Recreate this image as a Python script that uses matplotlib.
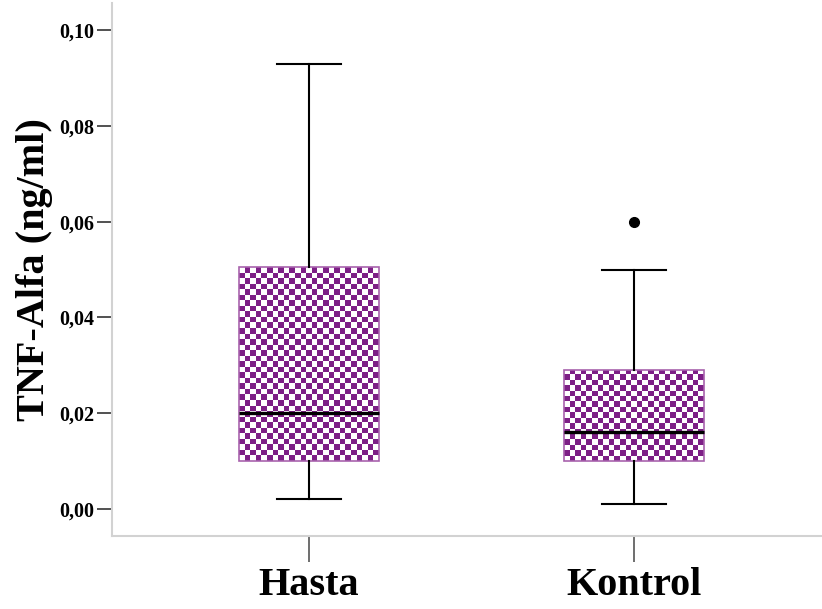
import numpy as np
import matplotlib.pyplot as plt
from matplotlib.colors import ListedColormap

# Group summary statistics (ng/ml)
groups = ['Hasta', 'Kontrol']
whisker_low = [0.002, 0.001]
q1 = [0.010, 0.010]
median = [0.020, 0.016]
q3 = [0.0505, 0.029]
whisker_high = [0.093, 0.050]
outliers = [[], [0.060]]

yticks = [0.00, 0.02, 0.04, 0.06, 0.08, 0.10]
ytick_labels = ['0,00', '0,02', '0,04', '0,06', '0,08', '0,10']

purple = '#7d1f86'
edge_purple = '#a862ad'
spine_gray = '#d2d2d2'

fig = plt.figure(figsize=(8.22, 6.09), dpi=100)
ax = fig.add_axes([112 / 822, 73 / 609, 710 / 822, 533 / 609])

stats = []
for i, name in enumerate(groups):
    stats.append({
        'label': name,
        'whislo': whisker_low[i],
        'q1': q1[i],
        'med': median[i],
        'q3': q3[i],
        'whishi': whisker_high[i],
        'fliers': outliers[i],
    })

positions = [1, 2]
box_w = 0.43
bp = ax.bxp(stats, positions=positions, widths=box_w, patch_artist=True,
            showfliers=True,
            boxprops=dict(facecolor='none', edgecolor=edge_purple, linewidth=1.2),
            medianprops=dict(color='black', linewidth=2.4),
            whiskerprops=dict(color='black', linewidth=1.5),
            capprops=dict(color='black', linewidth=1.5),
            capwidths=0.195,
            flierprops=dict(marker='o', markerfacecolor='black',
                            markeredgecolor='black', markersize=7))

ax.set_xlim(0.394, 2.578)
ax.set_ylim(-0.00564, 0.10564)

# checkerboard fill inside each box, clipped to the box outline
cell_px = 5.5
cmap = ListedColormap(['white', purple])
for pos, lo, hi, patch in zip(positions, q1, q3, bp['boxes']):
    x0, x1 = pos - box_w / 2, pos + box_w / 2
    p0 = ax.transData.transform((x0, lo))
    p1 = ax.transData.transform((x1, hi))
    nx = max(1, int(round(abs(p1[0] - p0[0]) / cell_px)))
    ny = max(1, int(round(abs(p1[1] - p0[1]) / cell_px)))
    checker = (np.indices((ny, nx)).sum(axis=0) % 2).astype(float)
    im = ax.imshow(checker, cmap=cmap, extent=[x0, x1, lo, hi],
                   origin='lower', aspect='auto', interpolation='nearest',
                   zorder=1.5)
    im.set_clip_path(patch)
    patch.set_zorder(2)

for line in bp['medians']:
    line.set_zorder(3)

ax.set_yticks(yticks)
ax.set_yticklabels(ytick_labels, fontfamily='Liberation Serif',
                   fontweight='bold', fontsize=14.5)
ax.set_xticks(positions)
ax.set_xticklabels(groups, fontfamily='Liberation Serif',
                   fontweight='bold', fontsize=29)

ax.tick_params(axis='y', length=11, width=1.2, color='#333333', pad=2)
ax.tick_params(axis='x', length=18.5, width=1.2, color='#555555', pad=4)

ax.set_ylabel('TNF-Alfa (ng/ml)', fontfamily='Liberation Serif',
              fontweight='bold', fontsize=29, labelpad=4)

for side in ['top', 'right']:
    ax.spines[side].set_visible(False)
for side in ['left', 'bottom']:
    ax.spines[side].set_color(spine_gray)
    ax.spines[side].set_linewidth(1.5)

fig.savefig('out.png', dpi=100)
